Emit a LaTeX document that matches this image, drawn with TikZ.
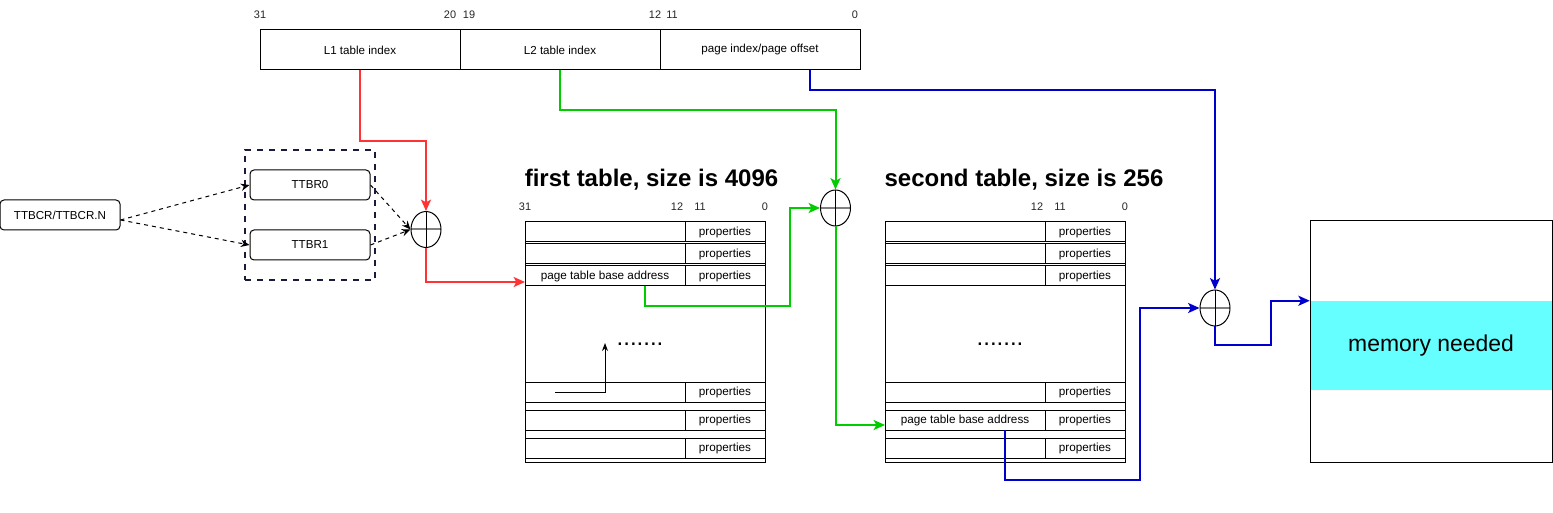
\documentclass[tikz,border=0pt]{standalone}
\usepackage{fontspec}
\setmainfont{Liberation Sans}
\usetikzlibrary{positioning, calc, arrows.meta, shapes.geometric}

\definecolor{linered}{HTML}{FF3333}
\definecolor{linegreen}{HTML}{00CC00}
\definecolor{lineblue}{HTML}{0000CC}
\definecolor{groupnavy}{HTML}{1A1A3A}
\definecolor{memcyan}{HTML}{66FFFF}

\tikzset{
  field/.style={draw, line width=0.75pt, minimum width=150pt, minimum height=30pt, inner sep=0pt, outer sep=0pt, font=\fontsize{8.7}{10}\selectfont},
  bitno/.style={font=\fontsize{8.2}{9}\selectfont, text=black!85},
  reg/.style={draw, rounded corners=3pt, line width=0.75pt, minimum width=90pt, minimum height=22.5pt, font=\fontsize{8.7}{10}\selectfont},
  adder/.style={draw, ellipse, line width=0.75pt, minimum width=22.5pt, minimum height=27pt, inner sep=0pt,
    path picture={
      \draw[gray, line width=1.5pt] (path picture bounding box.west) -- (path picture bounding box.east);
      \draw[line width=0.75pt] (path picture bounding box.north) -- (path picture bounding box.south);
    }},
  lcell/.style={draw, line width=0.75pt, minimum width=120pt, minimum height=15pt, inner sep=0pt, outer sep=0pt, anchor=north west, font=\fontsize{8.8}{10}\selectfont},
  rcell/.style={lcell, minimum width=60pt},
  tabletitle/.style={font=\bfseries\fontsize{18}{20}\selectfont},
  link/.style={line width=1.5pt, -{Stealth[length=8.5pt, width=7.5pt, inset=2pt]}},
  ctrl/.style={dashed, line width=0.75pt, -{Stealth[length=6.5pt, width=5.5pt]}}
}

\begin{document}
\begin{tikzpicture}[x=0.75pt, y=-0.75pt]
		\useasboundingbox (0,0) rectangle (1553,513);
		
		%virtual address fields
		\node[field] (l1) at (360,50) {L1 table index};
		\node[field] (l2) at (560,50) {L2 table index};
		\node[field] (pgidx) at (760,50) {page index/page offset};
		
		\node[bitno] at (260,15) {31};
		\node[bitno] at (450,15) {20};
		\node[bitno] at (469,15) {19};
		\node[bitno] at (655,15) {12};
		\node[bitno] at (672,15) {11};
		\node[bitno] at (855,15) {0};
		
		%translation table base registers
		\node[reg] (ttbcr) at (60,215) {TTBCR/TTBCR.N};
		\node[draw=groupnavy, dashed, dash pattern=on 4.5pt off 4.5pt, line width=1.5pt, minimum width=97.5pt, minimum height=97.5pt] (ttbrs) at (310,215) {};
		\node[reg] (ttbr0) at (310,185) {TTBR0};
		\node[reg] (ttbr1) at (310,245) {TTBR1};
		
		%adders
		\node[adder] (add1) at (426,229.5) {};
		\node[adder] (add2) at (835.5,208) {};
		\node[adder] (add3) at (1215,308) {};
		
		\coordinate (ttbcrout) at ([yshift=-3.75pt]ttbcr.east);
		\draw[ctrl] (ttbcrout) -- (ttbr0.west);
		\draw[ctrl] (ttbcrout) -- (ttbr1.west);
		\draw[ctrl] (ttbr0.east) -- (add1.west);
		\draw[ctrl] (ttbr1.east) -- (add1.west);
		
		%page tables
		\node[tabletitle] (t1title) at (651.5,180) {first table, size is 4096};
		\node[tabletitle] (t2title) at (1024,180) {second table, size is 256};
		
		\node[bitno] at (525,207) {31};
		\node[bitno] at (677,207) {12};
		\node[bitno] at (700,207) {11};
		\node[bitno] at (765,207) {0};
		\node[bitno] at (1037,207) {12};
		\node[bitno] at (1060,207) {11};
		\node[bitno] at (1125,207) {0};
		
		\foreach \t/\x in {1/525, 2/885}{
			\node[lcell, minimum width=180pt, minimum height=180pt] (t\t) at (\x,222) {};
			\foreach \r/\y in {1/222, 2/244, 3/266, 4/382, 5/410, 6/438}{
				\node[lcell] (t\t-l\r) at (\x,\y) {};
				\node[rcell] (t\t-r\r) at (\x+160,\y) {properties};
			}
		}
		\node[font=\fontsize{8.8}{10}\selectfont] at (t1-l3) {page table base address};
		\node[font=\fontsize{8.8}{10}\selectfont] at (t2-l5) {page table base address};
		
		\node (t1dots) at (640,344) {\fontsize{18}{18}\selectfont .......};
		\node (t2dots) at (1000,344) {\fontsize{18}{18}\selectfont .......};
		
		\draw[line width=0.75pt, -{Stealth[length=6pt, width=4.5pt]}] ($(t1-l4.west)+(30,0)$) -| ($(t1-l4.center)+(0,-49)$);
		
		%memory
		\node[fill=memcyan, minimum width=181.5pt, minimum height=66.75pt, inner sep=0pt, font=\fontsize{17.2}{19}\selectfont] (memband) at (1431,345.5) {memory needed};
		\node[draw, line width=0.75pt, minimum width=181.5pt, minimum height=181pt, inner sep=0pt] (mem) at (1431,341.5) {};
		
		%L1 index path
		\draw[link, linered] (l1.south) -- ++(0,71) -| (add1.north);
		\draw[link, linered] (add1.south) |- ([yshift=3pt]t1-l3.south west);
		
		%L2 index path
		\draw[link, linegreen] (l2.south) -- ++(0,40) -| (add2.north);
		\draw[link, linegreen] ($(t1-l3.south west)!0.75!(t1-l3.south east)$) -- ++(0,20) -| ($(add2.west)+(-30,0)$) -- (add2.west);
		\draw[link, linegreen] (add2.south) |- ([yshift=-3.75pt]t2-l5.west);
		
		%page offset path
		\draw[link, lineblue] ($(pgidx.south)+(50,0)$) -- ++(0,20) -| (add3.north);
		\draw[link, lineblue] ($(t2-l5.south west)!0.75!(t2-l5.south east)$) -- ++(0,50) -| ($(add3.west)+(-60,0)$) -- (add3.west);
		\draw[link, lineblue] (add3.south) -- ++(0,19) -| ($(memband.north west)+(-39,0)$) -- (memband.north west);
	\end{tikzpicture}
\end{document}
